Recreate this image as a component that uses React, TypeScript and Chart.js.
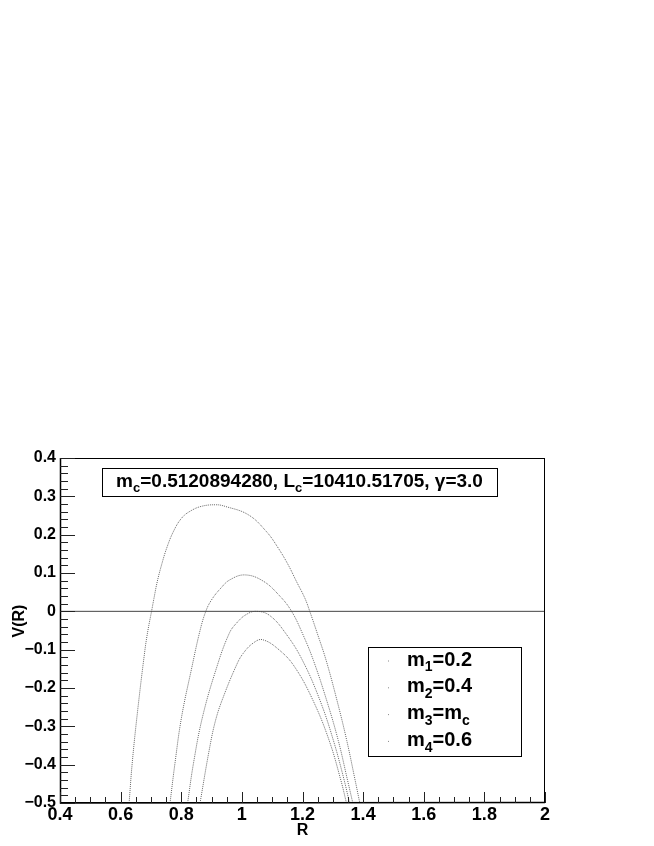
import React, { useEffect, useRef } from "react";
import { Chart, registerables } from "chart.js";

Chart.register(...registerables);

// ---- data ----
const curve1R = [0.628, 0.638, 0.655, 0.680, 0.690, 0.702, 0.710, 0.721, 0.735, 0.752, 0.774, 0.801, 0.829, 0.867, 0.915, 0.944, 1.021, 1.081, 1.120, 1.153, 1.180, 1.208, 1.224, 1.249, 1.278, 1.314, 1.346, 1.374, 1.389];
const curve1V = [-0.50, -0.398, -0.267, -0.102, -0.05, 0.0, 0.034, 0.078, 0.121, 0.165, 0.208, 0.243, 0.261, 0.274, 0.278, 0.274, 0.252, 0.208, 0.165, 0.121, 0.078, 0.034, 0.0, -0.058, -0.128, -0.233, -0.337, -0.442, -0.50];

const curve2R = [0.763, 0.779, 0.801, 0.835, 0.862, 0.881, 0.900, 0.930, 0.960, 1.010, 1.070, 1.125, 1.164, 1.200, 1.236, 1.280, 1.318, 1.349, 1.366];
const curve2V = [-0.50, -0.398, -0.276, -0.146, -0.05, 0.0, 0.030, 0.060, 0.082, 0.095, 0.079, 0.040, 0.0, -0.058, -0.128, -0.233, -0.337, -0.442, -0.50];

const curve3R = [0.821, 0.840, 0.870, 0.917, 0.958, 0.982, 1.015, 1.049, 1.092, 1.145, 1.200, 1.258, 1.302, 1.338, 1.355];
const curve3V = [-0.50, -0.398, -0.276, -0.146, -0.058, -0.031, -0.008, 0.0, -0.011, -0.058, -0.128, -0.233, -0.337, -0.442, -0.50];

const curve4R = [0.862, 0.892, 0.913, 0.938, 0.983, 1.004, 1.037, 1.068, 1.125, 1.175, 1.235, 1.288, 1.327, 1.345];
const curve4V = [-0.50, -0.363, -0.285, -0.225, -0.139, -0.110, -0.083, -0.074, -0.102, -0.146, -0.233, -0.337, -0.442, -0.50];

const zeroLineR = [0.4, 2.0];
const zeroLineV = [0, 0];

const legendLabels = [
  [{ t: "m" }, { t: "1", sub: true }, { t: "=0.2" }],
  [{ t: "m" }, { t: "2", sub: true }, { t: "=0.4" }],
  [{ t: "m" }, { t: "3", sub: true }, { t: "=m" }, { t: "c", sub: true }],
  [{ t: "m" }, { t: "4", sub: true }, { t: "=0.6" }],
];
const titleParts = [
  { t: "m" }, { t: "c", sub: true }, { t: "=0.5120894280, L" }, { t: "c", sub: true },
  { t: "=10410.51705, \u03b3=3.0" },
];
const xMin = 0.4, xMax = 2.0, xStep = 0.2;
const yMin = -0.5, yMax = 0.4, yStep = 0.1;
const xTitle = "R";
const yTitle = "V(R)";

const FONT = "'Liberation Sans', Arial, Helvetica, sans-serif";

function zip(r: number[], v: number[]) {
  return r.map((x, i) => ({ x, y: v[i] }));
}

function fmt(v: number) {
  const r = Math.round(v * 10) / 10;
  if (Math.abs(r) < 1e-9) return "0";
  const s = String(r);
  return s.replace("-", "\u2212");
}

type Part = { t: string; sub?: boolean };

function richWidth(ctx: CanvasRenderingContext2D, parts: Part[], size: number) {
  let w = 0;
  for (const p of parts) {
    ctx.font = `bold ${p.sub ? Math.round(size * 0.7) : size}px ${FONT}`;
    w += ctx.measureText(p.t).width;
  }
  return w;
}

function drawRich(ctx: CanvasRenderingContext2D, parts: Part[], x: number, y: number, size: number) {
  let cx = x;
  ctx.textAlign = "left";
  ctx.textBaseline = "alphabetic";
  for (const p of parts) {
    const s = p.sub ? Math.round(size * 0.7) : size;
    ctx.font = `bold ${s}px ${FONT}`;
    ctx.fillText(p.t, cx, p.sub ? y + size * 0.28 : y);
    cx += ctx.measureText(p.t).width;
  }
}

const decorPlugin = {
  id: "decor",
  afterDatasetsDraw(chart: any) {
    const ctx: CanvasRenderingContext2D = chart.ctx;
    const { left, right, top, bottom } = chart.chartArea;
    const xs = chart.scales.x;
    const ys = chart.scales.y;
    ctx.save();
    // frame
    ctx.strokeStyle = "#000";
    ctx.lineWidth = 1;
    ctx.strokeRect(left + 0.5, top + 0.5, right - left - 1, bottom - top - 1);
    // axes thicker
    ctx.lineWidth = 1.5;
    ctx.beginPath();
    ctx.moveTo(left + 0.5, top);
    ctx.lineTo(left + 0.5, bottom);
    ctx.lineTo(right, bottom - 0.5);
    ctx.stroke();
    // y ticks
    ctx.lineWidth = 1;
    ctx.strokeStyle = "#222";
    const yMinor = yStep / 5;
    for (let i = Math.round(yMin / yMinor); i <= Math.round(yMax / yMinor); i++) {
      const v = i * yMinor;
      const py = Math.round(ys.getPixelForValue(v)) + 0.5;
      const len = i % 5 === 0 ? 15 : 8;
      ctx.beginPath();
      ctx.moveTo(left, py);
      ctx.lineTo(left + len, py);
      ctx.stroke();
    }
    // x ticks
    const xMinor = xStep / 4;
    for (let i = Math.round(xMin / xMinor); i <= Math.round(xMax / xMinor); i++) {
      const v = i * xMinor;
      const px = Math.round(xs.getPixelForValue(v)) + 0.5;
      const len = i % 4 === 0 ? 11 : 6;
      ctx.beginPath();
      ctx.moveTo(px, bottom);
      ctx.lineTo(px, bottom - len);
      ctx.stroke();
    }
    // axis titles
    ctx.fillStyle = "#000";
    ctx.font = `bold 16px ${FONT}`;
    ctx.textAlign = "center";
    ctx.textBaseline = "middle";
    ctx.fillText(xTitle, (left + right) / 2, 831);
    ctx.save();
    ctx.translate(20, 621);
    ctx.rotate(-Math.PI / 2);
    ctx.fillText(yTitle, 0, 0);
    ctx.restore();

    // title box
    const tb = { x: 102, y: 468, w: 395, h: 28 };
    ctx.fillStyle = "#fff";
    ctx.fillRect(tb.x, tb.y, tb.w, tb.h);
    ctx.strokeStyle = "#000";
    ctx.lineWidth = 1;
    ctx.strokeRect(tb.x + 0.5, tb.y + 0.5, tb.w, tb.h);
    ctx.fillStyle = "#000";
    const tsize = 19;
    const tw = richWidth(ctx, titleParts, tsize);
    drawRich(ctx, titleParts, tb.x + tb.w / 2 - tw / 2, 487, tsize);

    // legend box
    const lb = { x: 368, y: 647, w: 153, h: 109 };
    ctx.fillStyle = "#fff";
    ctx.fillRect(lb.x, lb.y, lb.w, lb.h);
    ctx.strokeStyle = "#000";
    ctx.strokeRect(lb.x + 0.5, lb.y + 0.5, lb.w, lb.h);
    legendLabels.forEach((parts, i) => {
      const base = 665.5 + i * 26.8;
      ctx.fillStyle = "#888";
      ctx.fillRect(388, base - 5, 1, 1);
      ctx.fillStyle = "#000";
      drawRich(ctx, parts, 407, base, 20);
    });
    ctx.restore();
  },
};

export default function App() {
  const ref = useRef<HTMLCanvasElement | null>(null);
  useEffect(() => {
    if (!ref.current) return;
    const curveStyle = {
      showLine: true,
      pointRadius: 0,
      borderColor: "#666",
      borderWidth: 1,
      borderDash: [1, 1],
      tension: 0.4,
      fill: false,
    };
    const chart = new Chart(ref.current, {
      type: "scatter",
      data: {
        datasets: [
          { label: "zero", data: zip(zeroLineR, zeroLineV), showLine: true, pointRadius: 0, borderColor: "#444", borderWidth: 1 },
          { label: "m1=0.2", data: zip(curve1R, curve1V), ...curveStyle },
          { label: "m2=0.4", data: zip(curve2R, curve2V), ...curveStyle },
          { label: "m3=mc", data: zip(curve3R, curve3V), ...curveStyle },
          { label: "m4=0.6", data: zip(curve4R, curve4V), ...curveStyle },
        ],
      },
      options: {
        animation: false,
        responsive: false,
        devicePixelRatio: 1,
        layout: { padding: { left: 0, right: 109, top: 458, bottom: 0 } },
        plugins: { legend: { display: false }, tooltip: { enabled: false }, title: { display: false } },
        scales: {
          x: {
            type: "linear",
            min: xMin,
            max: xMax,
            afterFit: (s: any) => { s.height = 43; },
            grid: { display: false, drawTicks: false },
            border: { display: false },
            ticks: {
              stepSize: xStep,
              padding: 1,
              color: "#000",
              font: { family: FONT, size: 18, weight: "bold" },
              callback: (v: any) => fmt(Number(v)),
              maxRotation: 0,
              autoSkip: false,
            },
          },
          y: {
            type: "linear",
            min: yMin,
            max: yMax,
            afterFit: (s: any) => { s.width = 60; },
            grid: { display: false, drawTicks: false },
            border: { display: false },
            ticks: {
              stepSize: yStep,
              padding: 4,
              color: "#000",
              font: { family: FONT, size: 16, weight: "bold" },
              callback: (v: any) => fmt(Number(v)),
              autoSkip: false,
            },
          },
        },
      },
      plugins: [decorPlugin],
    } as any);
    return () => chart.destroy();
  }, []);
  return (
    <div style={{ position: "absolute", left: 0, top: 0, width: 654, height: 846, background: "#fff" }}>
      <canvas ref={ref} width={654} height={846} style={{ display: "block", width: 654, height: 846 }} />
    </div>
  );
}
